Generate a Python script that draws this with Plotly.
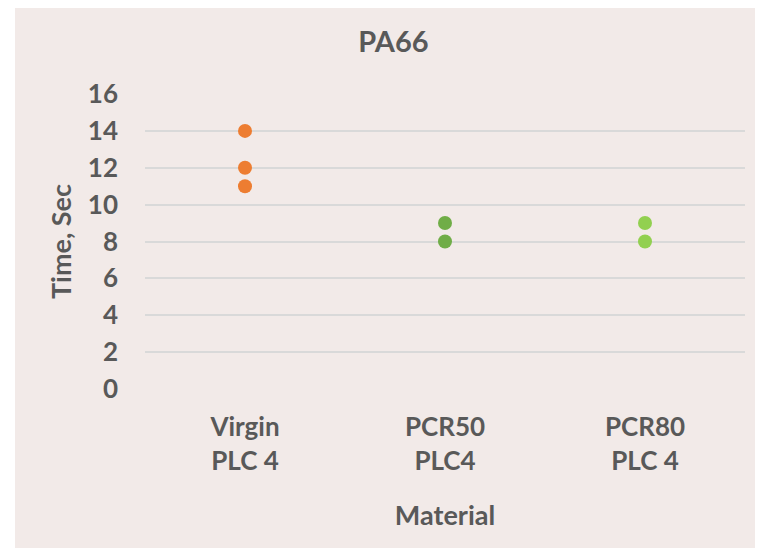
import plotly.graph_objects as go

categories = ["Virgin<br>PLC 4", "PCR50<br>PLC4", "PCR80<br>PLC 4"]
virgin_times = [14, 12, 11]
pcr50_times = [9, 8]
pcr80_times = [9, 8]
series_colors = ["#ED7D31", "#70AD47", "#92D050"]
y_ticks = [0, 2, 4, 6, 8, 10, 12, 14, 16]

OFF = 8  # page body margin
W, H = 763 - OFF, 550 - OFF
L, R, T, B = 145 - OFF, 18, 94 - OFF, 161
pw, ph = W - L - R, H - T - B

fig = go.Figure()
for cat, vals, col in zip(categories, [virgin_times, pcr50_times, pcr80_times], series_colors):
    fig.add_trace(go.Scatter(
        x=[cat] * len(vals), y=vals, mode="markers",
        marker=dict(color=col, size=14, line=dict(width=0)),
        showlegend=False, hoverinfo="x+y"))

font_family = "Lato, 'Open Sans', sans-serif"
grey = "#595959"

fig.update_layout(
    width=W, height=H,
    margin=dict(l=L, r=R, t=T, b=B),
    paper_bgcolor="white",
    plot_bgcolor="rgba(0,0,0,0)",
    font=dict(family=font_family, color=grey),
    title=dict(text="<b>PA66</b>", x=(393.5 - OFF) / W, xanchor="center",
               y=1 - (42 - OFF) / H, yanchor="middle",
               font=dict(size=29, family=font_family, color=grey)),
    shapes=[dict(type="rect", xref="paper", yref="paper",
                 x0=(15 - 145) / pw, x1=(W - L) / pw,
                 y0=(389 - 548) / ph, y1=(H - B) / ph,
                 fillcolor="#F2EAE8", line=dict(width=0), layer="below")],
)

fig.update_xaxes(
    type="category", categoryorder="array", categoryarray=categories,
    range=[-0.5, 2.5], showgrid=False, zeroline=False, showline=False,
    ticks="", tickfont=dict(size=26, family=font_family, color=grey),
    ticklabelstandoff=20,
    title=dict(text="<b>Material</b>", standoff=31,
               font=dict(size=27, family=font_family, color=grey)),
)
fig.update_xaxes(tickvals=categories,
                 ticktext=["<b>" + c.replace("<br>", "</b><br><b>") + "</b>" for c in categories])

fig.update_yaxes(
    range=[0, 16], tickvals=y_ticks, ticktext=["<b>%d</b>" % v for v in y_ticks],
    showgrid=True, gridcolor="#D9D9D9", gridwidth=1.5,
    zeroline=False, showline=False, ticks="",
    tickfont=dict(size=26, family=font_family, color=grey),
    ticklabelstandoff=26,
    title=dict(text="<b>Time, Sec</b>", standoff=8,
               font=dict(size=27, family=font_family, color=grey)),
)

fig.write_html("out.html")
